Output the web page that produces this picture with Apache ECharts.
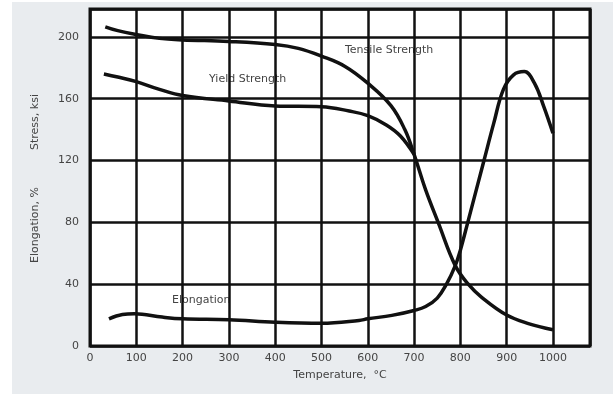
<!DOCTYPE html>
<html>
<head>
<meta charset="utf-8">
<script src="https://cdn.jsdelivr.net/npm/echarts@6/dist/echarts.min.js"></script>
<style>
  html, body { margin: 0; padding: 0; background: #fff; }
  #main { position: absolute; left: 12px; top: 2px; width: 601px; height: 392px; background: #e9ecef; }
</style>
</head>
<body>
<div id="main"></div>
<script>
const tempTicks = [0, 100, 200, 300, 400, 500, 600, 700, 800, 900, 1000];
const stressTicks = [0, 40, 80, 120, 160, 200];

const tensileTemp = [33, 60, 100, 150, 200, 300, 400, 450, 500, 550, 600, 650, 680, 700, 725, 752, 789, 817, 846, 900, 947, 1000];
const tensileStress = [206.5, 204, 201.5, 199, 198, 197, 195, 192.5, 187.5, 181, 170, 155.5, 140, 124, 101, 80, 52, 40, 31.5, 20, 14.5, 10.5];

const yieldTemp = [30, 60, 100, 150, 200, 300, 400, 500, 560, 600, 640, 670, 700];
const yieldStress = [176, 174, 171, 166, 162, 158.5, 155.3, 154.8, 152, 149, 143, 136, 124];

const elongTemp = [41, 70, 96, 156, 200, 300, 400, 500, 581, 600, 652, 700, 725, 750, 770, 789, 800, 816, 851, 872, 893, 915, 938, 960, 980, 1000];
const elongValue = [17.6, 20.4, 20.9, 18.7, 17.6, 17, 15.4, 14.7, 16.5, 17.6, 19.8, 23, 25.5, 31, 40, 52, 62, 80, 120, 144, 166, 175.4, 177.5, 170, 155, 137.6];

const zip = (xs, ys) => xs.map((x, i) => [x, ys[i]]);

const font = 'DejaVu Sans';
const lineStyle = { color: '#111', width: 3.5 };

const myChart = echarts.init(document.getElementById('main'));
const option = {
  animation: false,
  textStyle: { fontFamily: font },
  grid: {
    left: 78,
    top: 7,
    right: 23,
    bottom: 48,
    show: true,
    backgroundColor: '#fff',
    borderColor: '#111',
    borderWidth: 3,
  },
  xAxis: {
    type: 'value',
    min: tempTicks[0],
    max: 1080,
    interval: 100,
    name: 'Temperature,  °C',
    nameLocation: 'middle',
    nameGap: 24,
    nameTextStyle: { color: '#444', fontSize: 11, fontFamily: font },
    axisLine: { show: false },
    axisTick: { show: false },
    axisLabel: {
      color: '#444', fontSize: 11, margin: 7, showMaxLabel: false,
      formatter: v => (tempTicks.indexOf(v) >= 0 ? String(v) : ''),
    },
    splitLine: { show: true, lineStyle: { color: '#111', width: 2.5 } },
  },
  yAxis: {
    type: 'value',
    min: stressTicks[0],
    max: 218,
    interval: 40,
    axisLine: { show: false },
    axisTick: { show: false },
    axisLabel: {
      color: '#444', fontSize: 11, margin: 11, showMaxLabel: false,
      formatter: v => (stressTicks.indexOf(v) >= 0 ? String(v) : ''),
    },
    splitLine: { show: true, lineStyle: { color: '#111', width: 2.5 } },
  },
  graphic: [
    { type: 'text', x: 23, y: 120, rotation: Math.PI / 2,
      style: { text: 'Stress, ksi', fill: '#444', font: '11px "DejaVu Sans"', align: 'center', verticalAlign: 'middle' } },
    { type: 'text', x: 23, y: 223, rotation: Math.PI / 2,
      style: { text: 'Elongation, %', fill: '#444', font: '11px "DejaVu Sans"', align: 'center', verticalAlign: 'middle' } },
    { type: 'text', x: 333, y: 48,
      style: { text: 'Tensile Strength', fill: '#444', font: '11px "DejaVu Sans"', align: 'left', verticalAlign: 'middle' } },
    { type: 'text', x: 197, y: 77,
      style: { text: 'Yield Strength', fill: '#444', font: '11px "DejaVu Sans"', align: 'left', verticalAlign: 'middle' } },
    { type: 'text', x: 160, y: 298,
      style: { text: 'Elongation', fill: '#444', font: '11px "DejaVu Sans"', align: 'left', verticalAlign: 'middle' } },
  ],
  series: [
    {
      name: 'Tensile Strength',
      type: 'line',
      smooth: 0.4,
      showSymbol: false,
      lineStyle: lineStyle,
      data: zip(tensileTemp, tensileStress),
    },
    {
      name: 'Yield Strength',
      type: 'line',
      smooth: 0.4,
      showSymbol: false,
      lineStyle: lineStyle,
      data: zip(yieldTemp, yieldStress),
    },
    {
      name: 'Elongation',
      type: 'line',
      smooth: 0.4,
      showSymbol: false,
      lineStyle: lineStyle,
      data: zip(elongTemp, elongValue),
    },
  ],
};
myChart.setOption(option);
</script>
</body>
</html>
